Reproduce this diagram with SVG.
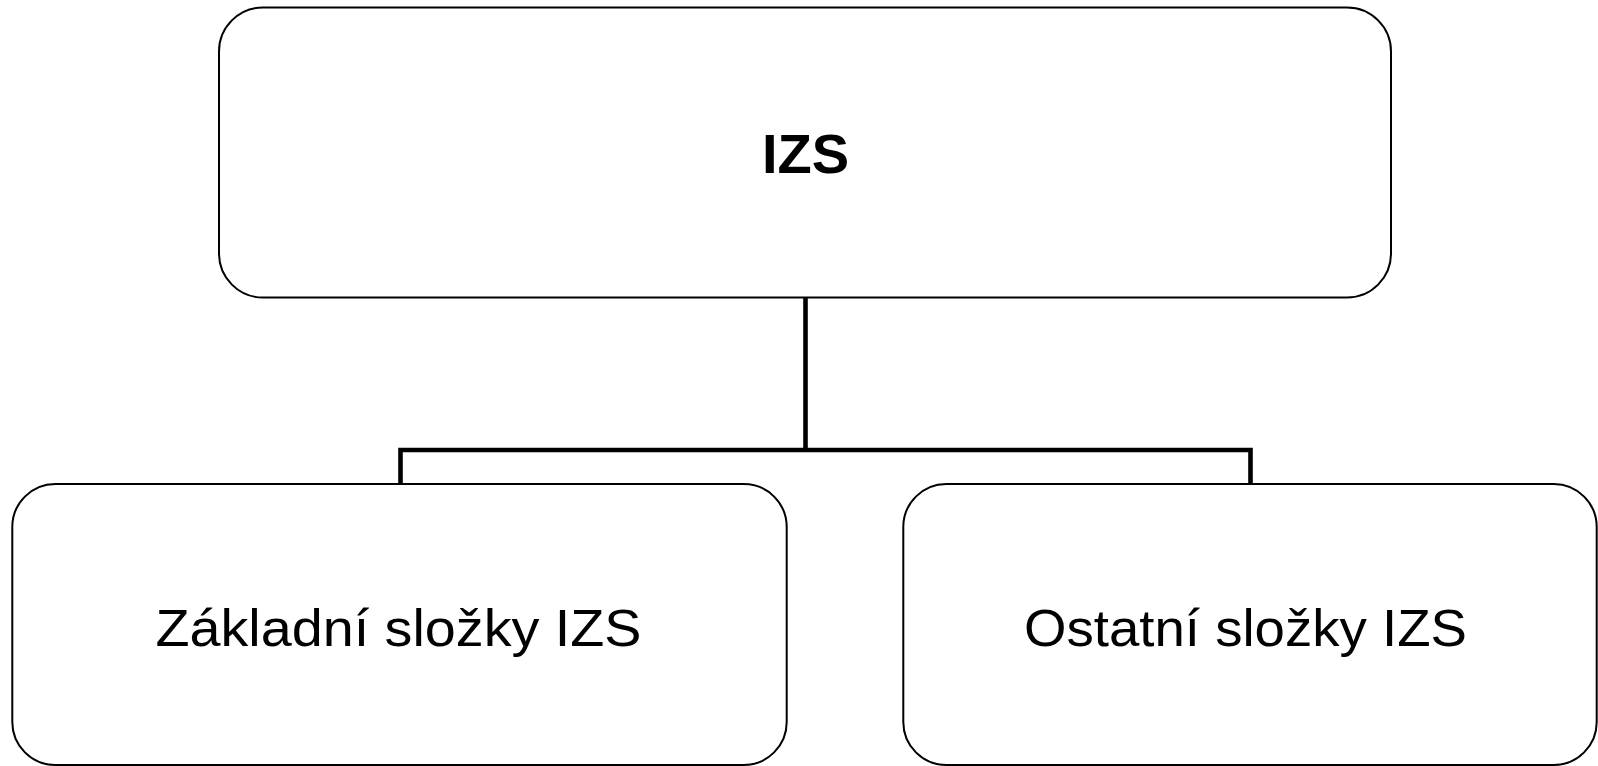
<svg xmlns="http://www.w3.org/2000/svg" width="1598" height="766" viewBox="0 0 1598 766">
<style>
.box{fill:#fff;stroke:#000;stroke-width:2}
.lbl{font-family:"Liberation Sans",Arial,sans-serif;fill:#000;text-anchor:middle}
.conn{fill:none;stroke:#000;stroke-width:4.6;stroke-linejoin:miter}
</style>
<rect width="1598" height="766" fill="#fff"/>
<g id="connectors">
<path class="conn" d="M805.5 297.5 V450"/>
<path class="conn" d="M400.5 484 V450 H1250.5 V484"/>
</g>
<g id="node-izs">
<rect class="box" x="219" y="7.5" width="1172" height="290" rx="44" ry="44"/>
<text class="lbl" x="805.5" y="173.3" font-size="56" font-weight="bold">IZS</text>
</g>
<g id="node-zakladni">
<rect class="box" x="12.3" y="484" width="774.4" height="281" rx="43" ry="43"/>
<text class="lbl" x="398.5" y="645.7" font-size="52" textLength="486" lengthAdjust="spacingAndGlyphs">Základní složky IZS</text>
</g>
<g id="node-ostatni">
<rect class="box" x="903.3" y="484" width="693.4" height="281" rx="43" ry="43"/>
<text class="lbl" x="1245.5" y="645.7" font-size="52" textLength="443" lengthAdjust="spacingAndGlyphs">Ostatní složky IZS</text>
</g>
</svg>
